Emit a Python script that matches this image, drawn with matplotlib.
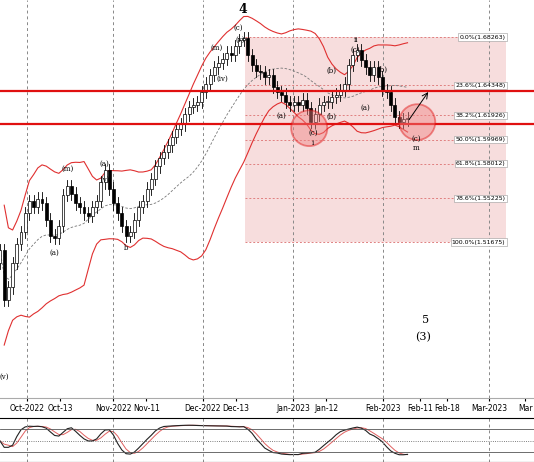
import matplotlib
matplotlib.use('Agg')
import matplotlib.pyplot as plt
import matplotlib.patches as patches
import numpy as np
import pandas as pd

# daily closes (one per trading bar)
closes = [1.510, 1.470, 1.480, 1.500, 1.515, 1.525, 1.540, 1.550, 1.545, 1.552,
          1.548, 1.535, 1.522, 1.520, 1.530, 1.555, 1.562, 1.556, 1.548, 1.545,
          1.540, 1.538, 1.545, 1.550, 1.565, 1.575, 1.560, 1.548, 1.540, 1.530,
          1.522, 1.525, 1.535, 1.545, 1.550, 1.560, 1.568, 1.578, 1.585, 1.590,
          1.595, 1.602, 1.608, 1.612, 1.620, 1.626, 1.628, 1.630, 1.638, 1.645,
          1.652, 1.658, 1.662, 1.665, 1.670, 1.668, 1.675, 1.680, 1.682, 1.668,
          1.660, 1.655, 1.654, 1.650, 1.652, 1.642, 1.638, 1.636, 1.630, 1.628,
          1.630, 1.628, 1.632, 1.625, 1.614, 1.620, 1.628, 1.630, 1.630, 1.634,
          1.636, 1.640, 1.645, 1.660, 1.668, 1.672, 1.664, 1.658, 1.652, 1.658,
          1.650, 1.640, 1.638, 1.628, 1.618, 1.614, 1.616, 1.617]
first_open = 1.500

tick_labels = ['Oct-2022', 'Oct-13', 'Nov-2022', 'Nov-11', 'Dec-2022', 'Dec-13',
               'Jan-2023', 'Jan-12', 'Feb-2023', 'Feb-11', 'Feb-18', 'Mar-2023', 'Mar']
tick_bars = [6.4, 14.3, 26.9, 34.8, 48.3, 56.2, 69.8, 77.6, 91.2, 100.0, 106.4, 116.4, 125.0]
month_bars = [6.4, 26.9, 48.3, 69.8, 91.2, 116.4]

fib_pct = ['0.0%', '23.6%', '38.2%', '50.0%', '61.8%', '78.6%', '100.0%']
fib_vals = [1.68263, 1.64348, 1.61926, 1.59969, 1.58012, 1.55225, 1.51675]

support_lines = [1.6390, 1.6122]

closes = np.array(closes)
opens = np.concatenate([[first_open], closes[:-1]])
n = len(closes)
x = np.arange(n)
highs = np.maximum(opens, closes) + 0.005
lows = np.minimum(opens, closes) - 0.005

s = pd.Series(closes)
mid = s.rolling(20, min_periods=1).mean()
sd = s.rolling(20, min_periods=2).std().fillna(0.02)
upper = mid + 2.0 * sd
lower = mid - 2.0 * sd

fig = plt.figure(figsize=(5.34, 4.62), dpi=100, facecolor='white')
ax = fig.add_axes([0, 64 / 462, 1, 398 / 462])
ax.set_xlim(0, 127.1)
ax.set_ylim(1.7126 - 398 / 1236, 1.7126)

for b in month_bars:
    ax.axvline(b, color='#888888', ls=(0, (3, 3)), lw=0.7)

# fib box
ax.add_patch(patches.Rectangle((58.3, fib_vals[-1]), 62.2, fib_vals[0] - fib_vals[-1],
                               facecolor='#f6d5d5', edgecolor='none', alpha=0.8, zorder=0))
for p, v in zip(fib_pct, fib_vals):
    ax.plot([58.3, 120.5], [v, v], color='#e08080', ls=(0, (2, 2)), lw=0.7)
    ax.text(120.3, v, f'{p}({v:.5f})', fontsize=4.5, ha='right', va='center',
            bbox=dict(facecolor='white', edgecolor='#999999', pad=0.8, lw=0.4))

ax.plot(x[1:], upper[1:], color='#e03030', lw=0.8)
ax.plot(x[1:], lower[1:], color='#e03030', lw=0.8)
ax.plot(x, mid, color='#777777', lw=0.6, ls=(0, (3, 2)))

for i in range(n):
    ax.plot([x[i], x[i]], [lows[i], highs[i]], color='black', lw=0.6, zorder=3)
    up = closes[i] >= opens[i]
    body = max(abs(closes[i] - opens[i]), 0.0008)
    ax.add_patch(patches.Rectangle((x[i] - 0.35, min(opens[i], closes[i])), 0.7, body,
                                   facecolor='white' if up else 'black',
                                   edgecolor='black', lw=0.5, zorder=4))

for v in support_lines:
    ax.axhline(v, color='#e01010', lw=1.6, zorder=5)

for cx, cy in [(73.6, 1.6089), (99.3, 1.6138)]:
    ax.add_patch(patches.Ellipse((cx, cy), 8.6, 0.029, facecolor='#f08080', alpha=0.45,
                                 edgecolor='#e01010', lw=1.3, zorder=6))
ax.annotate('', xy=(102.3, 1.6400), xytext=(97.0, 1.6140),
            arrowprops=dict(arrowstyle='->', color='black', lw=0.7), zorder=7)

labels = [(57.8, 1.7050, '4', 9, 'bold'), (101.2, 1.4540, '5', 8, 'normal'),
          (100.7, 1.4400, '(3)', 8, 'normal'),
          (24.8, 1.5800, '(a)', 5, 'normal'), (25.0, 1.5670, '(v)', 5, 'normal'),
          (16.0, 1.5760, '(m)', 5, 'normal'), (12.9, 1.5080, '(a)', 5, 'normal'),
          (30.0, 1.5120, 'b', 5, 'normal'), (56.7, 1.6900, '(c)', 5, 'normal'),
          (57.2, 1.6800, '(v)', 5, 'normal'), (51.5, 1.6740, '(m)', 5, 'normal'),
          (53.0, 1.6490, '(iv)', 5, 'normal'), (66.9, 1.6190, '(a)', 5, 'normal'),
          (74.5, 1.6050, '(c)', 5, 'normal'), (74.5, 1.5970, 'i', 5, 'normal'),
          (84.8, 1.6800, 'ii', 5, 'normal'), (84.5, 1.6720, '(c)', 5, 'normal'),
          (91.0, 1.6560, '(b)', 5, 'normal'), (78.9, 1.6550, '(b)', 5, 'normal'),
          (79.0, 1.6180, '(b)', 5, 'normal'), (99.0, 1.6000, '(c)', 5, 'normal'),
          (99.0, 1.5930, 'm', 5, 'normal'), (1.0, 1.4080, '(v)', 5, 'normal'),
          (87.0, 1.6250, '(a)', 5, 'normal')]
for lx, ly, t, fs, fw in labels:
    ax.text(lx, ly, t, fontsize=fs, fontweight=fw, ha='center', va='center',
            family='DejaVu Serif', zorder=8)

ax.set_xticks(tick_bars)
ax.set_xticklabels(tick_labels, fontsize=5.5)
ax.tick_params(axis='x', length=2, pad=2)
ax.set_yticks([])
for sp in ax.spines.values():
    sp.set_visible(False)
ax.spines['bottom'].set_visible(True)
ax.spines['bottom'].set_color('#aaaaaa')

# stochastic oscillator
ax2 = fig.add_axes([0, 0, 1, 44 / 462])
lo14 = s.rolling(14, min_periods=1).min() - 0.01
hi14 = s.rolling(14, min_periods=1).max() + 0.01
k = (100 * (s - lo14) / (hi14 - lo14)).rolling(3, min_periods=1).mean()
d = k.rolling(3, min_periods=1).mean()
ax2.plot(x, d, color='#e06060', lw=0.7)
ax2.plot(x, k, color='#222222', lw=0.8)
for lv, ls in [(80, '-'), (50, ':'), (20, '-')]:
    ax2.axhline(lv, color='#555555', lw=0.6, ls=ls)
for b in month_bars:
    ax2.axvline(b, color='#888888', ls=(0, (3, 3)), lw=0.7)
ax2.set_xlim(0, 127.1)
ax2.set_ylim(-5, 110)
ax2.set_xticks([])
ax2.set_yticks([])
for sp in ax2.spines.values():
    sp.set_visible(False)
ax2.spines['top'].set_visible(True)
ax2.spines['bottom'].set_visible(True)

fig.savefig('out.png', dpi=100, facecolor='white')
